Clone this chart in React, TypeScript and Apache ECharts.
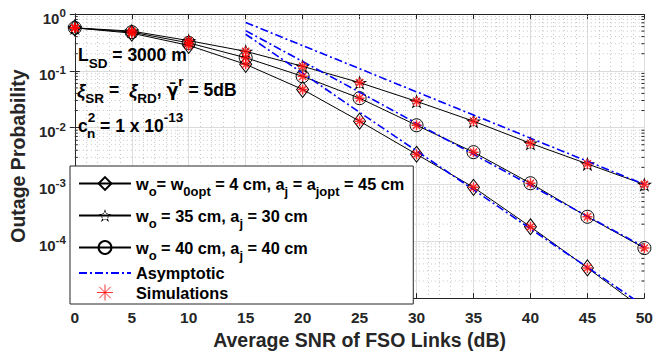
import React, { useEffect, useRef } from 'react';
import * as echarts from 'echarts';

const FONT = 'Liberation Sans, Arial, Helvetica, sans-serif';

// SNR grid (dB)
const snr = [0, 5, 10, 15, 20, 25, 30, 35, 40, 45, 50];
// Analytical outage probability
const woptValues = [0.57, 0.46, 0.28, 0.13, 0.047, 0.013, 0.0034, 0.00089, 0.00018, 0.000034, 0.0000062];
const w35Values = [0.57, 0.5, 0.34, 0.22, 0.12, 0.062, 0.029, 0.013, 0.0053, 0.0023, 0.001];
const w40Values = [0.57, 0.48, 0.31, 0.17, 0.08, 0.033, 0.011, 0.0037, 0.00105, 0.00027, 0.000076];
// Asymptotic curves
const asymSnr = [15, 20, 25, 30, 35, 40, 45, 50];
const asymWopt = [0.44, 0.091, 0.0186, 0.0039, 0.00081, 0.000166, 0.0000347, 0.0000072];
const asymW35 = [0.71, 0.277, 0.109, 0.0426, 0.0167, 0.00653, 0.00256, 0.001];
const asymW40 = [0.51, 0.146, 0.042, 0.0119, 0.0034, 0.00097, 0.000275, 0.000079];
// Simulation points
const simWopt = [0.57, 0.46, 0.28, 0.13, 0.047, 0.013, 0.0034, 0.00089, 0.00018, 0.000034, 0.0000062];
const simW35 = [0.57, 0.5, 0.34, 0.22, 0.12, 0.062, 0.029, 0.013, 0.0053, 0.0023, 0.001];
const simW40 = [0.57, 0.48, 0.31, 0.17, 0.08, 0.033, 0.011, 0.0037, 0.00105, 0.00027, 0.000076];
// Axis ticks
const xTicks = { min: 0, max: 50, interval: 5 };
const yDecades = [-5, -4, -3, -2, -1, 0];
const minorMultipliers = [2, 3, 4, 5, 6, 7, 8, 9];

const legendLabels: Record<string, string> = {
  w0opt: '{n|w}{s|o}{n|= w}{s|0opt}{n| = 4 cm, a}{s|j}{n| = a}{s|jopt}{n| = 45 cm}',
  w35: '{n|w}{s|o}{n| = 35 cm, a}{s|j}{n| = 30 cm}',
  w40: '{n|w}{s|o}{n| = 40 cm, a}{s|j}{n| = 40 cm}',
  Asymptotic: '{n|Asymptotic}',
  Simulations: '{n|Simulations}',
};

// Hollow pentagram drawn as a thin filled ring (outer star + inward-offset star, reversed)
function starRing(R: number, d: number) {
  const ratio = 0.382;
  const outer: string[] = [];
  const inner: string[] = [];
  for (let i = 0; i < 10; i++) {
    const a = -Math.PI / 2 + (i * Math.PI) / 5;
    const ro = i % 2 === 0 ? R : R * ratio;
    const ri = i % 2 === 0 ? R - 3.24 * d : R * ratio + 1.236 * d;
    outer.push((ro * Math.cos(a)).toFixed(3) + ' ' + (ro * Math.sin(a)).toFixed(3));
    inner.push((ri * Math.cos(a)).toFixed(3) + ' ' + (ri * Math.sin(a)).toFixed(3));
  }
  inner.reverse();
  return 'path://M' + outer.join(' L') + ' Z M' + inner.join(' L') + ' Z';
}
const STAR = starRing(8, 1.1);
const ASTERISK = 'path://M0 -5 L0 5 M-5 0 L5 0 M-3.6 -3.6 L3.6 3.6 M-3.6 3.6 L3.6 -3.6';

const legendRich = {
  n: { fontSize: 16.3, fontWeight: 'bold', fontFamily: FONT, color: '#000', lineHeight: 18 },
  s: { fontSize: 13, fontWeight: 'bold', fontFamily: FONT, color: '#000', lineHeight: 12, padding: [16, 0, 0, 0] },
};

const annRich = {
  n: { font: 'bold 17.5px ' + FONT, fill: '#000', lineHeight: 18 },
  s: { font: 'bold 13.5px ' + FONT, fill: '#000', lineHeight: 13, padding: [16, 0, 0, 0] },
  p: { font: 'bold 13.5px ' + FONT, fill: '#000', lineHeight: 13, padding: [0, 0, 18, 0] },
  x: { font: 'italic bold 18.5px ' + FONT, fill: '#000', lineHeight: 18 },
  g: { font: 'bold 17.5px DejaVu Sans, sans-serif', fill: '#000', lineHeight: 18 },
};

export default function App() {
  const ref = useRef<HTMLDivElement>(null);
  useEffect(() => {
    if (!ref.current) return;
    const chart = echarts.init(ref.current, undefined, { renderer: 'svg' });
    const pairs = (xs: number[], ys: number[]) => xs.map((x, i) => [x, ys[i]]);
    const minorGrid: number[][] = [];
    yDecades.slice(0, -1).forEach((d) => minorMultipliers.forEach((m) => minorGrid.push([0, m * Math.pow(10, d)])));
    const axisColor = '#262626';
    const lineSeries = (name: string, vals: number[], symbol: string, size: any, itemStyle: any) => ({
      type: 'line', name, data: pairs(snr, vals), symbol, symbolSize: size, showAllSymbol: true,
      itemStyle, lineStyle: { color: '#000', width: 1 }, z: 3, clip: true,
    });
    const hollow = { color: 'rgba(255,255,255,0)', borderColor: '#000', borderWidth: 1 };
    const asymSeries = (vals: number[]) => ({
      type: 'line', name: 'Asymptotic', data: pairs(asymSnr, vals), symbol: 'none',
      lineStyle: { color: '#0000ff', width: 1.6, type: [8, 3, 2, 3] }, itemStyle: { color: '#0000ff' }, z: 4, clip: true,
    });
    const simSeries = (vals: number[]) => ({
      type: 'scatter', name: 'Simulations', data: pairs(snr, vals), symbol: ASTERISK, symbolSize: 10,
      itemStyle: { color: '#ff0000', borderColor: '#ff0000', borderWidth: 1.5 }, z: 5, clip: true,
    });
    const annText = (x: number, y: number, text: string) => ({
      type: 'text', x, y, z: 10,
      style: { text, rich: annRich, verticalAlign: 'middle', font: 'bold 17.5px ' + FONT, fill: '#000' },
    });
    chart.setOption({
      animation: false,
      backgroundColor: '#fff',
      grid: { left: 72, right: 9, top: 14, bottom: 51, containLabel: false },
      xAxis: [
        {
          type: 'value', min: xTicks.min, max: xTicks.max, interval: xTicks.interval,
          name: 'Average SNR of FSO Links (dB)', nameLocation: 'middle', nameGap: 21,
          nameTextStyle: { fontSize: 19.5, fontWeight: 'bold', fontFamily: FONT, color: '#262626' },
          axisLine: { show: true, lineStyle: { color: axisColor, width: 1 } },
          axisTick: { show: true, inside: true, length: 5, lineStyle: { color: axisColor } },
          axisLabel: { fontSize: 15.5, fontWeight: 'bold', fontFamily: FONT, color: '#262626', margin: 11 },
          splitLine: { show: true, lineStyle: { color: '#dcdcdc', width: 1 } },
          minorTick: { show: false, splitNumber: 5 },
          minorSplitLine: { show: true, lineStyle: { color: '#c4c4c4', width: 1, type: [1, 3] } },
        },
        {
          type: 'value', min: xTicks.min, max: xTicks.max, interval: xTicks.interval, position: 'top',
          axisLine: { show: true, lineStyle: { color: axisColor, width: 1 } },
          axisTick: { show: true, inside: true, length: 5, lineStyle: { color: axisColor } },
          axisLabel: { show: false }, splitLine: { show: false },
        },
      ],
      yAxis: [
        {
          type: 'log', logBase: 10, min: 1e-5, max: 1,
          name: 'Outage Probability', nameLocation: 'middle', nameGap: 41, nameRotate: 90,
          nameTextStyle: { fontSize: 19.5, fontWeight: 'bold', fontFamily: FONT, color: '#262626' },
          axisLine: { show: true, lineStyle: { color: axisColor, width: 1 } },
          axisTick: { show: true, inside: true, length: 5, lineStyle: { color: axisColor } },
          axisLabel: {
            margin: 9,
            formatter: (v: number) => {
              const e = Math.round(Math.log10(v));
              if (e === -5) return '';
              return '{b|10}{p|' + e + '}';
            },
            rich: {
              b: { fontSize: 15, fontWeight: 'bold', fontFamily: FONT, color: '#262626', lineHeight: 15, padding: [8, 0, 0, 0] },
              p: { fontSize: 11.5, fontWeight: 'bold', fontFamily: FONT, color: '#262626', lineHeight: 11, padding: [0, 0, 2, 0] },
            },
          },
          splitLine: { show: true, lineStyle: { color: '#dcdcdc', width: 1 } },
        },
        {
          type: 'log', logBase: 10, min: 1e-5, max: 1, position: 'right',
          axisLine: { show: true, lineStyle: { color: axisColor, width: 1 } },
          axisTick: { show: true, inside: true, length: 5, lineStyle: { color: axisColor } },
          axisLabel: { show: false }, splitLine: { show: false },
        },
      ],
      legend: {
        orient: 'vertical', left: 70, top: 166,
        data: [
          'w0opt', 'w35', 'w40',
          { name: 'Asymptotic', itemStyle: { opacity: 0 } },
          { name: 'Simulations', itemStyle: { borderWidth: 1 } },
        ],
        itemWidth: 52, itemHeight: 16, itemGap: 3,
        padding: [3, 9, 3, 8],
        backgroundColor: '#fff', borderColor: '#262626', borderWidth: 1, borderRadius: 0,
        formatter: (name: string) => legendLabels[name],
        textStyle: { rich: legendRich, fontSize: 16.3, fontWeight: 'bold', fontFamily: FONT, color: '#000' },
        selectedMode: false,
      },
      graphic: [
        annText(78, 55, '{n|L}{s|SD}{n| = 3000 m}'),
        annText(77, 90, '{x|ξ}{s|SR}{n| =  }{x|ξ}{s|RD}{n|, }{g|γ\u0304}{p|r}{n| = 5dB}'),
        annText(78, 126, '{n|c}{p|2}{n| = 1 x 10}{p|-13}'),
        {
          type: 'text', x: 87, y: 133, z: 10,
          style: { text: 'n', fill: '#000', verticalAlign: 'middle', font: 'bold 13.5px ' + FONT },
        },
      ],
      series: [
        {
          type: 'custom', name: 'minorGrid', silent: true, z: 1, xAxisIndex: 0, yAxisIndex: 0,
          data: minorGrid,
          renderItem: (params: any, api: any) => {
            const v = api.value(1);
            const a = api.coord([xTicks.min, v]);
            const b = api.coord([xTicks.max, v]);
            return {
              type: 'group',
              children: [
                { type: 'line', shape: { x1: a[0], y1: a[1], x2: b[0], y2: b[1] }, style: { stroke: '#c4c4c4', lineWidth: 1, lineDash: [1, 3] } },
                { type: 'line', shape: { x1: a[0], y1: a[1], x2: a[0] + 3, y2: a[1] }, style: { stroke: axisColor, lineWidth: 1 } },
                { type: 'line', shape: { x1: b[0] - 3, y1: b[1], x2: b[0], y2: b[1] }, style: { stroke: axisColor, lineWidth: 1 } },
              ],
            };
          },
        },
        lineSeries('w0opt', woptValues, 'diamond', [12, 16], hollow),
        lineSeries('w35', w35Values, STAR, [15.2, 14.5], { color: '#000', borderWidth: 0 }),
        lineSeries('w40', w40Values, 'circle', 13, hollow),
        asymSeries(asymWopt),
        asymSeries(asymW35),
        asymSeries(asymW40),
        simSeries(simWopt),
        simSeries(simW35),
        simSeries(simW40),
      ],
    });
    return () => chart.dispose();
  }, []);
  return <div ref={ref} style={{ position: 'fixed', left: 0, top: 0, width: 656, height: 355 }} />;
}
